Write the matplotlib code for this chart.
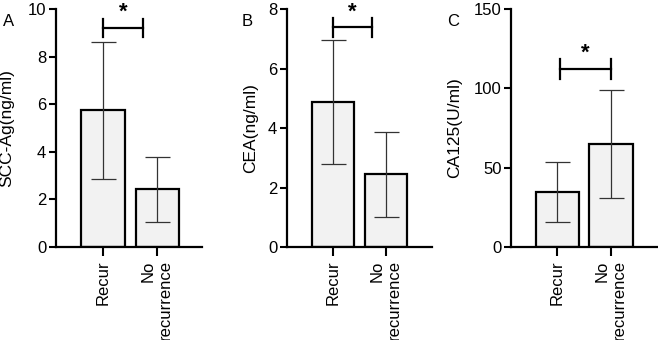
import matplotlib
matplotlib.use("Agg")
import matplotlib.pyplot as plt

plt.rcParams['font.family'] = ['Liberation Sans', 'DejaVu Sans']

groups = ["Recur", "No\nrecurrence"]

scc_mean = [5.75, 2.42]
scc_sd = [2.88, 1.36]
cea_mean = [4.87, 2.45]
cea_sd = [2.08, 1.43]
ca125_mean = [34.5, 65.0]
ca125_sd = [19.0, 34.0]

panels = [
    ("A", "SCC-Ag(ng/ml)", scc_mean, scc_sd, [0, 2, 4, 6, 8, 10], 9.2, 0.38),
    ("B", "CEA(ng/ml)", cea_mean, cea_sd, [0, 2, 4, 6, 8], 7.38, 0.31),
    ("C", "CA125(U/ml)", ca125_mean, ca125_sd, [0, 50, 100, 150], 112, 6.3),
]

# axes boxes in figure fraction
boxes = [
    [0.0851, 0.2735, 0.222, 0.70],
    [0.436, 0.2735, 0.220, 0.70],
    [0.777, 0.2735, 0.223, 0.70],
]
xlims = [(-0.87, 1.83), (-0.87, 1.87), (-0.85, 1.87)]
bracket_x = [(0, 0.74), (0, 0.75), (0.05, 1.0)]
ylabel_x = [-0.288, -0.20, -0.333]
letter_pos = [(9, 22), (247, 22), (453, 22)]

fig = plt.figure()
fig.set_size_inches(6.58, 3.4)

for k in range(3):
    letter, ylab, mean, sd, yticks, by, bh = panels[k]
    ax = fig.add_axes(boxes[k])
    x = [0, 1]
    ax.bar(x, mean, width=0.8, color="#f2f2f2", edgecolor="black", linewidth=1.6, zorder=2)
    ax.errorbar(x, mean, yerr=sd, fmt="none", ecolor="#333333", elinewidth=0.9,
                capsize=9, capthick=0.9, zorder=3)
    # significance bracket
    x0, x1 = bracket_x[k]
    ax.plot([x0, x1], [by, by], color="black", lw=1.6, clip_on=False, zorder=4)
    ax.plot([x0, x0], [by - bh, by + bh], color="black", lw=1.6, clip_on=False, zorder=4)
    ax.plot([x1, x1], [by - bh, by + bh], color="black", lw=1.6, clip_on=False, zorder=4)
    ax.text((x0 + x1) / 2, by + bh * 0.55, "*", ha="center", va="bottom",
            fontsize=16, fontweight="bold")

    ax.set_xlim(*xlims[k])
    ax.set_ylim(yticks[0], yticks[-1])
    ax.set_yticks(yticks)
    ax.set_xticks(x)
    ax.set_xticklabels(groups, rotation=90, ha="center", va="top",
                       multialignment="right", fontsize=12)
    ax.tick_params(axis="y", labelsize=12, width=1.5, length=5, pad=2)
    ax.tick_params(axis="x", width=1.5, length=6.5, pad=3)
    ax.set_ylabel(ylab, fontsize=12.5)
    ax.yaxis.set_label_coords(ylabel_x[k], 0.5)
    ax.spines["top"].set_visible(False)
    ax.spines["right"].set_visible(False)
    ax.spines["left"].set_linewidth(1.6)
    ax.spines["bottom"].set_linewidth(1.6)

    lx, ly = letter_pos[k]
    fig.text(lx / 658, 1 - ly / 340, letter, ha="center", va="center", fontsize=12)

plt.savefig("out.png", dpi=100)
